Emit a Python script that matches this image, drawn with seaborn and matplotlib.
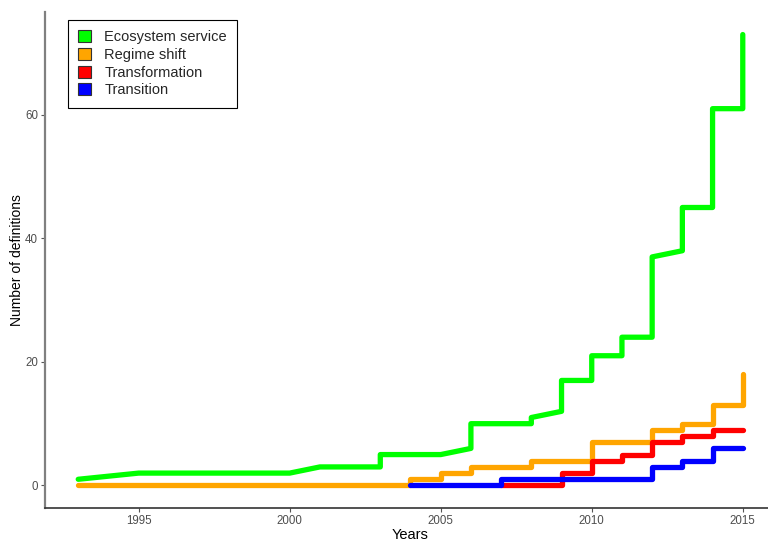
import pandas as pd
import seaborn as sns
import matplotlib.pyplot as plt
from matplotlib.patches import Patch

# cumulative number of definitions
eco_years = [1993, 1995, 2000, 2001, 2003, 2003, 2005, 2006, 2006, 2008, 2008, 2009, 2009,
             2010, 2010, 2011, 2011, 2012, 2012, 2013, 2013, 2014, 2014, 2015, 2015]
eco_counts = [1, 2, 2, 3, 3, 5, 5, 6, 10, 10, 11, 12, 17,
              17, 21, 21, 24, 24, 37, 38, 45, 45, 61, 61, 73]

regime_years = [1993, 2004, 2004, 2005, 2005, 2006, 2006, 2008, 2008, 2010, 2010,
                2012, 2012, 2013, 2013, 2014, 2014, 2015, 2015]
regime_counts = [0, 0, 1, 1, 2, 2, 3, 3, 4, 4, 7,
                 7, 9, 9, 10, 10, 13, 13, 18]

transf_years = [2007, 2009, 2009, 2010, 2010, 2011, 2011, 2012, 2012, 2013, 2013, 2014, 2014, 2015]
transf_counts = [0, 0, 2, 2, 4, 4, 5, 5, 7, 7, 8, 8, 9, 9]

trans_years = [2004, 2007, 2007, 2012, 2012, 2013, 2013, 2014, 2014, 2015]
trans_counts = [0, 0, 1, 1, 3, 3, 4, 4, 6, 6]

series_names = ['Ecosystem service', 'Regime shift', 'Transformation', 'Transition']
series_colors = ['#00FF00', '#FFA500', '#FF0000', '#0000FF']

frames = []
for name, xs, ys in zip(series_names,
                        [eco_years, regime_years, transf_years, trans_years],
                        [eco_counts, regime_counts, transf_counts, trans_counts]):
    frames.append(pd.DataFrame({'year': xs, 'count': ys, 'concept': name}))
df = pd.concat(frames, ignore_index=True)

sns.set_style('white')
plt.rcParams['font.family'] = ['Liberation Sans', 'DejaVu Sans']

fig = plt.figure(figsize=(7.68, 5.42), dpi=100)
ax = fig.add_axes([45 / 768, 34 / 542, 731 / 768, 496 / 542])

sns.lineplot(data=df, x='year', y='count', hue='concept', hue_order=series_names,
             palette=series_colors, sort=False, estimator=None, linewidth=3.8,
             legend=False, ax=ax)

ax.set_xlim(1991.9, 2016.1)
ax.set_ylim(-3.65, 76.65)
ax.set_xticks([1995, 2000, 2005, 2010, 2015])
ax.set_yticks([0, 20, 40, 60])
ax.tick_params(axis='both', length=3, width=0.8, color='#555555',
               labelsize=8.3, labelcolor='#4D4D4D', pad=2, bottom=True, left=True)

ax.set_xlabel('Years', fontsize=10.5, color='black', labelpad=1)
ax.set_ylabel('Number of definitions', fontsize=10, color='black', labelpad=1)

for side in ['top', 'right']:
    ax.spines[side].set_visible(False)
ax.spines['left'].set_color('#808080')
ax.spines['left'].set_linewidth(1.6)
ax.spines['bottom'].set_color('#333333')
ax.spines['bottom'].set_linewidth(1.2)

handles = [Patch(facecolor=c, edgecolor='#333333', linewidth=0.8) for c in series_colors]
leg = ax.legend(handles, series_names, loc='upper left',
                bbox_to_anchor=(23 / 731, 1 - 8 / 496), borderaxespad=0,
                fontsize=10.5, frameon=True, fancybox=False, framealpha=1,
                handlelength=0.9, handleheight=0.9, handletextpad=0.9,
                labelspacing=0.25, borderpad=0.7)
leg.get_frame().set_edgecolor('black')
leg.get_frame().set_linewidth(0.8)

fig.savefig('out.png', dpi=100)
